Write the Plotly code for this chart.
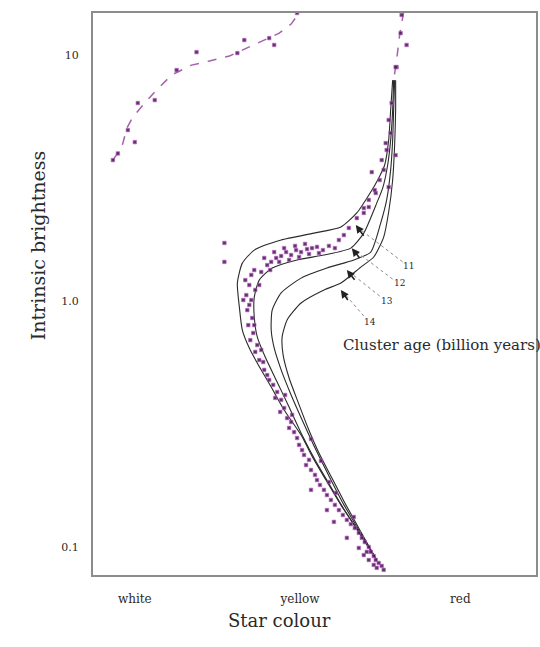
import plotly.graph_objects as go

# ---- Data (colour index in arbitrary units, log10 of intrinsic brightness) ----
star_colour = [
    1.69, 1.75, 1.79, 1.84, 1.89, 1.94, 1.99, 2.04, 2.09, 2.15, 2.20, 2.25, 2.31, 2.37, 2.43,
    1.78, 1.87, 1.97, 2.07, 2.17, 2.27, 1.72, 1.82, 1.92, 2.03, 2.13, 1.62, 1.67, 1.59,
    1.57, 1.54, 1.59, 1.55, 1.60, 1.56, 1.61, 1.58, 1.53, 1.63, 1.57, 1.51, 1.62, 1.65,
    1.63, 1.67, 1.69, 1.72, 1.75, 1.71,
    1.77, 1.81, 1.85, 1.83, 1.89, 1.92, 1.88, 1.95, 1.99, 1.97, 2.02, 2.05, 2.00, 1.93,
    2.07, 2.10, 2.12, 2.17, 2.14, 2.19, 2.23, 2.25, 2.28, 2.32, 2.35, 2.39, 2.43, 2.47,
    2.51, 2.55, 2.59, 2.63, 2.67, 2.70, 2.73, 2.77, 2.79, 2.82, 2.84, 2.87, 2.90, 2.77,
    2.72, 2.82, 2.92, 2.67, 2.75, 2.85,
    2.19, 2.29, 2.19, 2.35, 2.42, 2.62, 2.55, 2.44, 2.37,
    1.32, 1.32,
    3.05, 3.00, 2.97, 2.99, 2.94, 3.04, 2.90, 2.80, 2.97, 2.84, 2.77, 2.72,
    2.95, 2.92, 2.88, 2.83, 2.77, 2.72, 2.65, 2.57, 2.52, 2.47,
]
star_log_brightness = [
    0.118, 0.146, 0.159, 0.175, 0.183, 0.199, 0.187, 0.207, 0.199, 0.211, 0.215, 0.220, 0.207, 0.224, 0.215,
    0.126, 0.159, 0.167, 0.179, 0.191, 0.195, 0.175, 0.199, 0.215, 0.224, 0.232, 0.126, 0.065, 0.106,
    0.065, 0.024, 0.004, -0.037, -0.069, -0.098, -0.130, -0.159, 0.085, 0.045, -0.016, 0.004, -0.098, -0.179,
    -0.207, -0.240, -0.199, -0.280, -0.301, -0.248,
    -0.321, -0.341, -0.370, -0.394, -0.402, -0.435, -0.451, -0.476, -0.492, -0.516, -0.533, -0.557, -0.463, -0.382,
    -0.585, -0.606, -0.626, -0.646, -0.667, -0.687, -0.707, -0.728, -0.748, -0.768, -0.789, -0.809, -0.829, -0.850,
    -0.870, -0.890, -0.907, -0.923, -0.943, -0.963, -0.980, -1.000, -1.020, -1.037, -1.053, -1.065, -1.077, -1.053,
    -1.033, -1.073, -1.093, -1.004, -1.020, -1.085,
    -0.561, -0.650, -0.768, -0.850, -0.898, -0.878, -0.963, -0.780, -0.736,
    0.236, 0.159,
    0.951, 0.805, 0.736, 0.683, 0.642, 0.593, 0.573, 0.524, 0.463, 0.439, 0.382, 0.358,
    0.614, 0.533, 0.492, 0.451, 0.411, 0.378, 0.337, 0.297, 0.268, 0.248,
]

# Horizontal branch (dashed) and upper giant branch (dashed)
hb_colour = [0.20, 0.29, 0.34, 0.40, 0.52, 0.62, 0.79, 0.99, 1.17, 1.37, 1.57, 1.72, 1.87, 1.99, 2.07]
hb_log_brightness = [0.573, 0.626, 0.703, 0.748, 0.805, 0.850, 0.919, 0.959, 0.976, 0.996, 1.033, 1.061, 1.089, 1.126, 1.171]
hb_star_colour = [0.20, 0.42, 0.45, 0.62, 0.84, 1.04, 1.45, 1.52, 1.77, 1.82, 2.05, 0.35, 0.25]
hb_star_log_brightness = [0.573, 0.646, 0.805, 0.817, 0.939, 1.012, 1.008, 1.061, 1.069, 1.041, 1.171, 0.695, 0.600]
agb_colour = [3.12, 3.08, 3.05, 3.02]
agb_log_brightness = [1.175, 1.081, 0.980, 0.898]
agb_star_colour = [3.10, 3.09, 3.15, 3.04]
agb_star_log_brightness = [1.163, 1.089, 1.041, 0.951]

# Isochrones (cluster age in billion years)
ages = ["11", "12", "13", "14"]
iso_colour = {
    "11": [3.01, 2.99, 2.97, 2.93, 2.86, 2.79, 2.65, 2.49, 2.22, 1.89, 1.62, 1.50, 1.45, 1.47, 1.50,
           1.57, 1.65, 1.79, 1.92, 2.09, 2.21, 2.34, 2.49, 2.66, 2.85],
    "12": [3.02, 3.01, 2.99, 2.96, 2.91, 2.85, 2.72, 2.59, 2.32, 2.05, 1.80, 1.67, 1.62, 1.62, 1.65,
           1.73, 1.84, 1.96, 2.10, 2.23, 2.36, 2.50, 2.66, 2.85],
    "13": [3.03, 3.02, 3.01, 2.99, 2.95, 2.89, 2.79, 2.62, 2.35, 2.09, 1.89, 1.80, 1.79, 1.82, 1.89,
           1.99, 2.11, 2.24, 2.37, 2.51, 2.67, 2.85],
    "14": [3.04, 3.04, 3.03, 3.01, 2.97, 2.92, 2.82, 2.69, 2.49, 2.32, 2.09, 1.95, 1.90, 1.91, 1.97,
           2.06, 2.16, 2.27, 2.40, 2.53, 2.68, 2.85],
}
iso_log_brightness = {
    "11": [0.898, 0.776, 0.654, 0.553, 0.492, 0.443, 0.358, 0.301, 0.276, 0.248, 0.207, 0.154, 0.073, -0.024, -0.118,
           -0.191, -0.252, -0.350, -0.443, -0.545, -0.638, -0.728, -0.829, -0.931, -1.053],
    "12": [0.898, 0.776, 0.654, 0.553, 0.459, 0.398, 0.276, 0.215, 0.187, 0.167, 0.134, 0.085, 0.016, -0.065, -0.146,
           -0.228, -0.321, -0.423, -0.545, -0.646, -0.736, -0.833, -0.935, -1.053],
    "13": [0.898, 0.776, 0.654, 0.533, 0.411, 0.317, 0.199, 0.167, 0.134, 0.093, 0.033, -0.037, -0.118, -0.191, -0.280,
           -0.382, -0.492, -0.606, -0.711, -0.821, -0.931, -1.053],
    "14": [0.898, 0.776, 0.634, 0.492, 0.362, 0.260, 0.179, 0.138, 0.073, 0.045, -0.008, -0.077, -0.146, -0.220, -0.313,
           -0.411, -0.516, -0.618, -0.720, -0.821, -0.931, -1.053],
}
# Age label positions and arrow tips
label_colour = [3.17, 3.08, 2.95, 2.78]
label_log_brightness = [0.142, 0.073, 0.000, -0.085]
leader_start_colour = [3.11, 3.01, 2.88, 2.72]
leader_start_log = [0.159, 0.089, 0.020, -0.061]
leader_end_colour = [2.69, 2.65, 2.60, 2.53]
leader_end_log = [0.289, 0.199, 0.110, 0.028]
tip_colour = [2.64, 2.60, 2.55, 2.49]
tip_log = [0.309, 0.215, 0.126, 0.045]

colour_ticks = [0.42, 2.08, 3.69]
colour_tick_text = ["white", "yellow", "red"]
bright_ticks = [1, 0, -1]
bright_tick_text = ["10", "1.0", "0.1"]

SERIF = "DejaVu Serif"
TEXT = "#2a2a2a"
PURPLE = "#4e1f5a"
PINK = "#a561ab"

fig = go.Figure()

fig.add_trace(go.Scatter(x=hb_colour, y=hb_log_brightness, mode="lines",
                         line=dict(color=PINK, width=1.5, dash="dash"), hoverinfo="skip"))
fig.add_trace(go.Scatter(x=agb_colour, y=agb_log_brightness, mode="lines",
                         line=dict(color=PINK, width=1.5, dash="dash"), hoverinfo="skip"))

for a in ages:
    fig.add_trace(go.Scatter(x=iso_colour[a], y=iso_log_brightness[a], mode="lines",
                             line=dict(color="#2a2a2a", width=1.1, shape="spline", smoothing=0.6),
                             name=a))

for i in range(len(ages)):
    fig.add_trace(go.Scatter(x=[leader_start_colour[i], leader_end_colour[i]],
                             y=[leader_start_log[i], leader_end_log[i]], mode="lines",
                             line=dict(color="#8a8a8a", width=1, dash="dot"), hoverinfo="skip"))

marker_style = dict(symbol="square", size=3.5, color=PURPLE, opacity=0.9,
                    line=dict(width=0.7, color="#b45cbf"))
fig.add_trace(go.Scatter(x=star_colour, y=star_log_brightness, mode="markers", marker=marker_style))
fig.add_trace(go.Scatter(x=hb_star_colour + agb_star_colour,
                         y=hb_star_log_brightness + agb_star_log_brightness, mode="markers",
                         marker=marker_style))

annotations = []
for i, a in enumerate(ages):
    annotations.append(dict(x=label_colour[i], y=label_log_brightness[i], xref="x", yref="y",
                            text=a, showarrow=False, font=dict(family=SERIF, size=9, color=TEXT)))
    annotations.append(dict(x=tip_colour[i], y=tip_log[i], xref="x", yref="y",
                            ax=leader_end_colour[i] + 0.04, ay=leader_end_log[i] - 0.03,
                            axref="x", ayref="y", text="", showarrow=True,
                            arrowhead=2, arrowsize=1, arrowwidth=1.6, arrowcolor="#222", standoff=0))
annotations.append(dict(x=2.49, y=-0.179, xref="x", yref="y", xanchor="left",
                        text="Cluster age (billion years)", showarrow=False,
                        font=dict(family=SERIF, size=15, color=TEXT)))
annotations.append(dict(x=-0.153, y=0.587, xref="paper", yref="paper", textangle=-90,
                        text="Intrinsic brightness", showarrow=False,
                        font=dict(family=SERIF, size=19, color=TEXT)))
annotations.append(dict(x=0.422, y=-0.103, xref="paper", yref="paper",
                        text="Star colour", showarrow=False,
                        font=dict(family=SERIF, size=18, color=TEXT)))

fig.update_layout(
    width=540, height=647,
    margin=dict(l=93, r=2, t=13, b=72),
    paper_bgcolor="white", plot_bgcolor="white",
    showlegend=False,
    font=dict(family=SERIF, size=11, color=TEXT),
    annotations=annotations,
    xaxis=dict(range=[0, 4.45], showgrid=False, zeroline=False,
               tickvals=colour_ticks, ticktext=colour_tick_text,
               ticks="outside", ticklen=12, tickcolor="rgba(0,0,0,0)",
               showline=True, mirror=True, linecolor="#8c8c8c", linewidth=2,
               tickfont=dict(family=SERIF, size=12, color=TEXT)),
    yaxis=dict(range=[-1.114, 1.171], showgrid=False, zeroline=False,
               tickvals=bright_ticks, ticktext=bright_tick_text,
               ticks="outside", ticklen=10, tickcolor="rgba(0,0,0,0)",
               showline=True, mirror=True, linecolor="#8c8c8c", linewidth=2,
               tickfont=dict(family=SERIF, size=11, color=TEXT)),
)

fig.write_html("out.html")
